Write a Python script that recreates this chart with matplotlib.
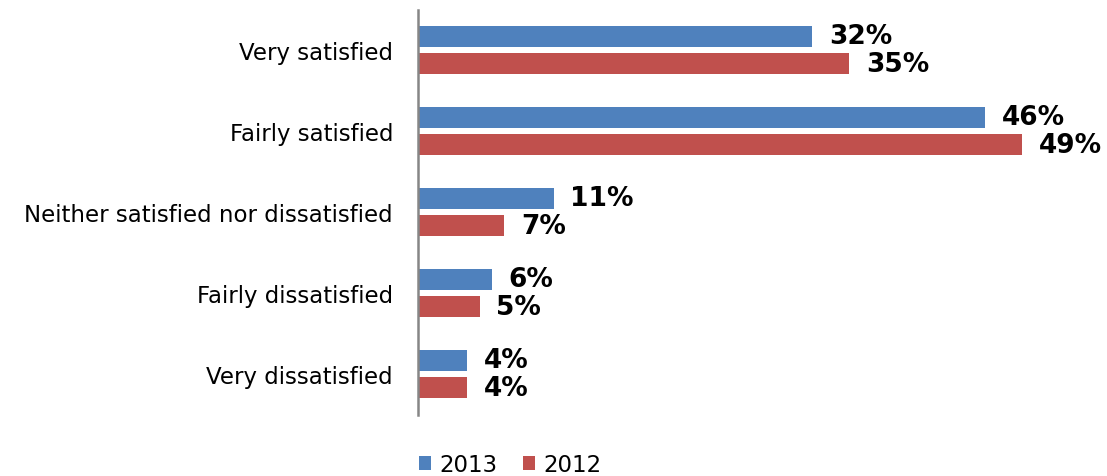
import matplotlib
matplotlib.use("Agg")
import matplotlib.pyplot as plt
import numpy as np

categories = ["Very satisfied", "Fairly satisfied", "Neither satisfied nor dissatisfied",
              "Fairly dissatisfied", "Very dissatisfied"]
series_names = ["2013", "2012"]
values_2013 = [32, 46, 11, 6, 4]
values_2012 = [35, 49, 7, 5, 4]

blue = "#4F81BD"
red = "#C0504D"

W, H = 1107, 477
fig = plt.figure(figsize=(W / 100, H / 100), dpi=100)
ax = fig.add_axes([418 / W, 1 - 415.5 / H, (1096 - 418) / W, 405 / H])

y = np.arange(len(categories))
off = 0.167
bh = 0.265
b1 = ax.barh(y - off, values_2013, height=bh, color=blue, label=series_names[0])
b2 = ax.barh(y + off, values_2012, height=bh, color=red, label=series_names[1])

ax.set_xlim(0, 55)
ax.set_ylim(len(categories) - 0.5, -0.5)
ax.set_yticks(y)
ax.set_yticklabels(categories, fontsize=16.5, color="#000000")
ax.tick_params(axis="y", length=0, pad=18)
ax.set_xticks([])
for s in ["top", "right", "bottom"]:
    ax.spines[s].set_visible(False)
ax.spines["left"].set_color("#868686")
ax.spines["left"].set_linewidth(1.8)

for bars, vals in ((b1, values_2013), (b2, values_2012)):
    for rect, v in zip(bars, vals):
        ax.annotate(f"{v}%", xy=(v, rect.get_y() + rect.get_height() / 2),
                    xytext=(12, 0), textcoords="offset points",
                    ha="left", va="center", fontsize=19, fontweight="bold",
                    color="#000000")

fig.legend(handles=[b1, b2], labels=series_names, loc="center",
           bbox_to_anchor=(510 / W, 1 - 466 / H), ncol=2, frameon=False,
           fontsize=16.5, handlelength=0.55, handleheight=0.55,
           handletextpad=0.35, columnspacing=1.1, borderpad=0.2)

fig.savefig("out.png", dpi=100)
